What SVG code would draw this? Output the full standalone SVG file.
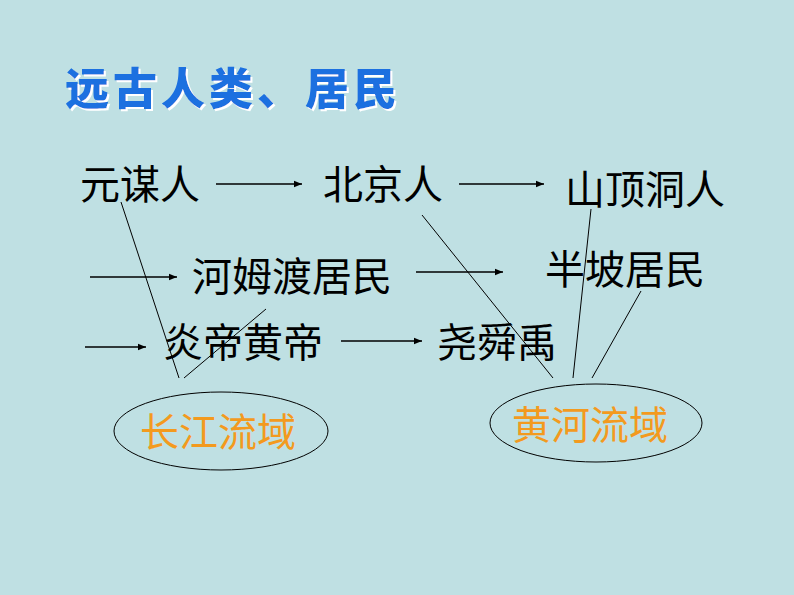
<svg xmlns="http://www.w3.org/2000/svg" width="794" height="595" viewBox="0 0 794 595">
<defs>
<marker id="ah" viewBox="0 0 10 10" refX="10" refY="5" markerWidth="8" markerHeight="8" markerUnits="userSpaceOnUse" orient="auto"><path d="M0,1 L10,5 L0,9 z" fill="#000"/></marker>
<filter id="sh" x="-5%" y="-20%" width="110%" height="140%"><feDropShadow dx="2" dy="2" stdDeviation="0.5" flood-color="#fff"/></filter>
</defs>
<style>
.t{font-family:"Noto Sans CJK SC",sans-serif;font-size:40px;fill:#000}
.o{font-family:"Noto Sans CJK SC",sans-serif;font-size:39px;fill:#f39a1e}
.a{stroke:#000;stroke-width:1.5;marker-end:url(#ah)}
.l{stroke:#000;stroke-width:1}
</style>
<rect width="794" height="595" fill="#bfe0e3"/>
<g id="title"><text x="65" y="105" font-family="Noto Sans CJK SC,sans-serif" font-size="44" font-weight="900" fill="#1a6fe0" letter-spacing="4" filter="url(#sh)">远古人类、居民</text></g>
<g id="connectors">
<line class="a" x1="216" y1="184" x2="302" y2="184"/>
<line class="a" x1="459" y1="184" x2="544" y2="184"/>
<line class="a" x1="90" y1="277" x2="177" y2="277"/>
<line class="a" x1="416" y1="272" x2="503" y2="272"/>
<line class="a" x1="85" y1="347" x2="146" y2="347"/>
<line class="a" x1="341" y1="341" x2="422" y2="341"/>
<line class="l" x1="121" y1="202" x2="179" y2="378"/>
<line class="l" x1="266" y1="309" x2="184" y2="378"/>
<line class="l" x1="422" y1="215" x2="553" y2="378"/>
<line class="l" x1="591" y1="209" x2="573" y2="378"/>
<line class="l" x1="641" y1="291" x2="592" y2="378"/>
</g>
<g id="n1"><text class="t" x="80" y="199">元谋人</text></g>
<g id="n2"><text class="t" x="323" y="199">北京人</text></g>
<g id="n3"><text class="t" x="565" y="204">山顶洞人</text></g>
<g id="n4"><text class="t" x="192" y="291">河姆渡居民</text></g>
<g id="n5"><text class="t" x="545" y="284">半坡居民</text></g>
<g id="n6"><text class="t" x="163" y="357">炎帝黄帝</text></g>
<g id="n7"><text class="t" x="437" y="357">尧舜禹</text></g>
<g id="yangtze"><ellipse cx="221" cy="431" rx="107" ry="39" fill="none" stroke="#000" stroke-width="1"/><text class="o" x="140" y="446">长江流域</text></g>
<g id="yellow"><ellipse cx="596" cy="423" rx="106" ry="39" fill="none" stroke="#000" stroke-width="1"/><text class="o" x="512" y="439">黄河流域</text></g>
</svg>
